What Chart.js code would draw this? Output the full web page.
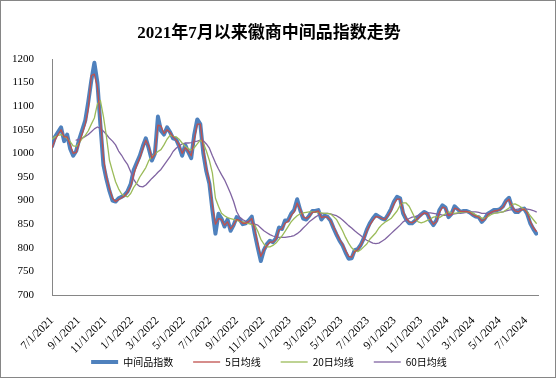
<!DOCTYPE html>
<html><head><meta charset="utf-8">
<script src="https://cdn.jsdelivr.net/npm/chart.js@4/dist/chart.umd.min.js"></script>
<style>html,body{margin:0;padding:0;background:#fff}#wrap{width:556px;height:378px}</style>
</head><body><div id="wrap"><canvas id="c" width="556" height="378"></canvas></div>
<script>
const titleText = '2021年7月以来徽商中间品指数走势';
const seriesNames = ['中间品指数', '5日均线', '20日均线', '60日均线'];
const startDate = '2021-07-01';   // first weekly sample
const stepDays = 7;               // one sample per week
const tickLabels = ['7/1/2021','9/1/2021','11/1/2021','1/1/2022','3/1/2022','5/1/2022','7/1/2022','9/1/2022','11/1/2022','1/1/2023','3/1/2023','5/1/2023','7/1/2023','9/1/2023','11/1/2023','1/1/2024','3/1/2024','5/1/2024','7/1/2024'];
const yMin = 700, yMax = 1200, yStep = 50;

const indexValues = [
1015,1035,1045,1055,1026,1040,1010,995,1005,1030,
1050,1070,1110,1155,1192,1150,1060,975,945,920,
900,898,905,908,912,920,935,965,980,995,
1015,1032,1010,985,1000,1078,1048,1040,1055,1045,
1032,1030,1015,995,1018,1003,990,1040,1072,1062,
1000,962,936,880,830,872,862,845,860,836,
848,865,860,850,852,858,866,830,800,772,
795,808,815,812,820,843,840,858,858,872,
880,903,880,862,860,868,878,878,880,860,
868,866,858,842,828,815,805,790,777,778,
795,797,806,820,838,852,862,870,866,862,
860,870,882,898,908,905,873,860,852,852,
858,865,871,876,872,857,848,858,880,890,
885,865,872,888,882,876,878,878,875,870,
866,865,855,862,872,876,880,880,882,888,
900,906,885,876,876,882,883,872,852,840,
830];

const ma5 = [
1012,1028,1040,1050,1035,1035,1018,1000,1002,1022,
1042,1062,1095,1165,1168,1140,1075,990,950,925,
905,898,902,906,910,918,930,955,975,990,
1010,1028,1015,990,998,1060,1058,1042,1050,1045,
1035,1028,1018,1000,1012,1005,995,1030,1062,1062,
1010,968,940,890,850,862,860,848,855,840,
848,860,858,852,852,856,862,838,808,782,
795,805,812,812,818,838,840,852,856,868,
876,895,882,866,862,866,875,876,878,864,
866,865,858,845,832,818,808,794,782,780,
792,796,805,818,835,848,858,866,865,862,
860,868,878,893,903,903,878,862,855,853,
857,863,869,874,872,860,850,855,875,886,
884,868,870,884,882,877,877,877,875,870,
867,865,857,860,870,875,878,879,881,886,
897,903,888,878,876,880,882,874,856,843,
835];

const ma20 = [
1030,1035,1038,1040,1036,1032,1025,1016,1015,1022,
1032,1038,1048,1062,1075,1105,1112,1078,1035,985,
962,940,925,914,910,908,915,928,937,950,
960,970,985,993,998,1004,1008,1018,1030,1038,
1036,1035,1030,1022,1015,1010,1007,1012,1020,1028,
1022,1005,985,958,905,888,873,868,864,862,
860,858,856,855,853,851,849,848,835,818,
808,802,802,805,810,818,825,835,845,855,
862,868,872,874,875,876,876,876,875,874,
873,873,872,866,860,848,836,822,810,800,
794,792,796,802,808,818,825,832,842,849,
854,858,862,870,878,890,895,895,888,875,
862,855,853,855,858,861,865,866,864,868,
872,876,874,873,874,875,876,876,876,874,
870,866,863,863,866,870,873,874,875,876,
880,884,892,893,890,886,882,876,868,860,
852];

const ma60 = [
null,null,null,null,null,null,null,null,1028,1030,
1032,1036,1040,1046,1052,1056,1053,1047,1040,1032,
1026,1018,1005,996,985,976,961,945,935,930,
929,933,940,947,953,960,966,975,984,993,
1004,1011,1016,1020,1022,1022,1023,1025,1026,1028,
1027,1020,1011,995,980,967,955,944,930,915,
898,877,865,860,856,853,852,850,848,842,
836,832,828,825,823,822,822,822,823,824,
826,830,835,842,848,855,860,865,869,872,
873,873,872,870,868,864,859,853,847,842,
836,831,826,820,816,813,810,809,810,814,
818,824,830,836,842,848,855,859,862,865,
866,869,872,873,874,874,873,872,871,869,
869,870,871,872,873,874,874,875,876,876,
876,875,873,873,873,873,874,874,875,876,
878,880,881,881,882,883,883,882,881,879,
876];

const DAY = 86400000;
const t0 = Date.UTC(2021, 6, 1);
function labelToDay(s) { const p = s.split('/').map(Number); return Math.round((Date.UTC(p[2], p[0] - 1, p[1]) - t0) / DAY); }
const tickDays = tickLabels.map(labelToDay);
const sampleDays = indexValues.map((_, i) => i * stepDays);
const toXY = arr => arr.map((v, i) => ({ x: sampleDays[i], y: v }));

const colors = ['#4F81BD', '#C0504D', '#9BBB59', '#8064A2'];
const widths = [4, 1.3, 1.3, 1.3];
const series = [indexValues, ma5, ma20, ma60];

const datasets = series.map((arr, i) => ({
  label: seriesNames[i],
  data: toXY(arr),
  borderColor: colors[i],
  backgroundColor: colors[i],
  borderWidth: widths[i],
  pointRadius: 0,
  pointStyle: 'line',
  tension: 0,
  borderJoinStyle: 'round',
  borderCapStyle: 'round',
  spanGaps: false,
  order: i === 0 ? 1 : 0
}));

const frame = {
  id: 'frame',
  beforeDraw(chart) {
    const c = chart.ctx; c.save(); c.fillStyle = '#fff'; c.fillRect(0, 0, chart.width, chart.height); c.restore();
  },
  afterDraw(chart) {
    const c = chart.ctx; c.save(); c.strokeStyle = '#868686'; c.lineWidth = 1;
    c.strokeRect(0.5, 0.5, chart.width - 1, chart.height - 1); c.restore();
  }
};

const serif = "'Liberation Serif', 'Times New Roman', serif";
new Chart(document.getElementById('c'), {
  type: 'line',
  data: { datasets },
  plugins: [frame],
  options: {
    responsive: false, animation: false, devicePixelRatio: 1,
    layout: { padding: { left: 0, right: 18, top: 0, bottom: 1 } },
    plugins: {
      title: { display: true, text: titleText, color: '#000',
        font: { family: "'Liberation Serif', 'Noto Sans CJK SC', serif", size: 17, weight: 'bold' },
        padding: { top: 23, bottom: 15.6 } },
      legend: { position: 'bottom',
        labels: { usePointStyle: true, pointStyleWidth: 27, padding: 20, color: '#000',
          font: { family: "'Noto Sans CJK SC', sans-serif", size: 10 },
          sort: (a, b) => a.datasetIndex - b.datasetIndex } },
      tooltip: { enabled: false }
    },
    scales: {
      x: { type: 'linear', min: 0, max: 1124,
        grid: { display: false },
        border: { display: true, color: '#868686', width: 1 },
        afterBuildTicks: s => { s.ticks = tickDays.map(v => ({ value: v })); },
        afterFit: s => { s.height = 42; s._computeLabelArea = () => null; },
        ticks: { autoSkip: false, minRotation: 45, maxRotation: 45, padding: 11, color: '#000',
          font: { family: serif, size: 11.5 },
          callback: (v, i) => tickLabels[i] } },
      y: { min: yMin, max: yMax,
        grid: { display: false },
        border: { display: true, color: '#868686', width: 1 },
        afterFit: s => { s.width = 52; },
        ticks: { stepSize: yStep, padding: 10, color: '#000', font: { family: serif, size: 11 },
          callback: v => String(v) } }
    }
  }
});
</script></body></html>
